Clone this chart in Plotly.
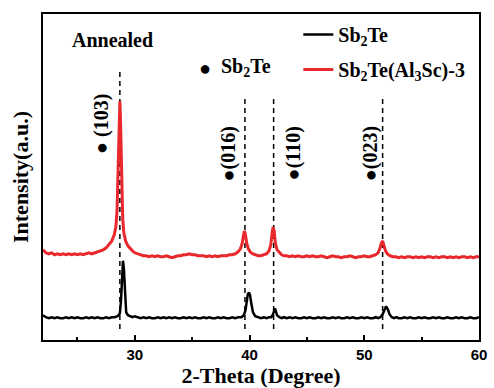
import plotly.graph_objects as go

# ---------------- data ----------------
red_x = [22.0, 22.25, 22.5, 22.75, 23.0, 23.25, 23.5, 23.75, 24.0, 24.25, 24.5, 24.75,
         25.0, 25.25, 25.5, 25.75, 26.0, 26.25, 26.5, 26.75, 27.0, 27.25, 27.5, 27.75,
         28.0, 28.2, 28.35, 28.45, 28.55, 28.65, 28.7, 28.75, 28.85, 28.95, 29.05, 29.2,
         29.4, 29.6, 29.8, 30.0, 30.25, 30.5, 30.75, 31.0, 31.25, 31.5, 31.75, 32.0,
         32.25, 32.5, 32.75, 33.0, 33.25, 33.5, 33.75, 34.0, 34.25, 34.5, 34.75, 35.0,
         35.25, 35.5, 35.75, 36.0, 36.25, 36.5, 36.75, 37.0, 37.25, 37.5, 37.75, 38.0,
         38.25, 38.5, 38.75, 39.0, 39.2, 39.35, 39.45, 39.55, 39.65, 39.75, 39.9, 40.05,
         40.25, 40.5, 40.75, 41.0, 41.25, 41.5, 41.7, 41.85, 41.95, 42.05, 42.15, 42.25,
         42.4, 42.6, 42.8, 43.0, 43.25, 43.5, 43.75, 44.0, 44.25, 44.5, 44.75, 45.0,
         45.25, 45.5, 45.75, 46.0, 46.25, 46.5, 46.75, 47.0, 47.25, 47.5, 47.75, 48.0,
         48.25, 48.5, 48.75, 49.0, 49.25, 49.5, 49.75, 50.0, 50.25, 50.5, 50.75, 51.0,
         51.2, 51.35, 51.5, 51.6, 51.7, 51.85, 52.0, 52.25, 52.5, 52.75, 53.0, 53.25,
         53.5, 53.75, 54.0, 54.25, 54.5, 54.75, 55.0, 55.25, 55.5, 55.75, 56.0, 56.25,
         56.5, 56.75, 57.0, 57.25, 57.5, 57.75, 58.0, 58.25, 58.5, 58.75, 59.0, 59.25,
         59.5, 59.75, 60.0]
red_y = [91, 88, 87, 88, 86, 87, 86, 87, 86, 87, 86, 87,
         86, 87, 86, 87, 88, 87, 88, 89, 90, 91, 93, 96,
         100, 106, 114, 130, 170, 228, 241, 224, 160, 122, 108, 100,
         95, 92, 90, 88, 87, 86, 85, 85, 84, 85, 84, 85,
         84, 84, 85, 84, 83, 84, 85, 85, 86, 86, 87, 86,
         86, 85, 85, 85, 84, 85, 84, 85, 84, 85, 85, 85,
         86, 86, 87, 89, 92, 97, 104, 110, 106, 98, 92, 89,
         87, 86, 85, 85, 86, 87, 90, 96, 106, 114, 110, 98,
         91, 88, 86, 85, 85, 84, 85, 84, 85, 84, 84, 85,
         84, 85, 84, 84, 85, 84, 83, 84, 85, 84, 84, 83,
         84, 84, 85, 84, 83, 84, 84, 85, 84, 84, 85, 86,
         88, 92, 98, 100, 96, 90, 87, 85, 84, 84, 83, 84,
         83, 84, 84, 83, 84, 83, 84, 83, 84, 84, 83, 84,
         83, 84, 84, 83, 84, 83, 84, 83, 84, 84, 83, 84,
         83, 84, 84]

black_x = [22.0, 22.25, 22.5, 22.75, 23.0, 23.25, 23.5, 23.75, 24.0, 24.25, 24.5, 24.75,
           25.0, 25.25, 25.5, 25.75, 26.0, 26.25, 26.5, 26.75, 27.0, 27.25, 27.5, 27.75,
           28.0, 28.25, 28.5, 28.7, 28.8, 28.9, 28.97, 29.05, 29.15, 29.25, 29.4, 29.6,
           29.8, 30.0, 30.25, 30.5, 30.75, 31.0, 31.25, 31.5, 31.75, 32.0, 32.25, 32.5,
           32.75, 33.0, 33.25, 33.5, 33.75, 34.0, 34.25, 34.5, 34.75, 35.0, 35.25, 35.5,
           35.75, 36.0, 36.25, 36.5, 36.75, 37.0, 37.25, 37.5, 37.75, 38.0, 38.25, 38.5,
           38.75, 39.0, 39.3, 39.5, 39.65, 39.75, 39.85, 39.95, 40.05, 40.15, 40.3, 40.5,
           40.75, 41.0, 41.25, 41.5, 41.7, 41.9, 42.05, 42.15, 42.22, 42.3, 42.4, 42.6,
           42.8, 43.0, 43.25, 43.5, 43.75, 44.0, 44.25, 44.5, 44.75, 45.0, 45.25, 45.5,
           45.75, 46.0, 46.25, 46.5, 46.75, 47.0, 47.25, 47.5, 47.75, 48.0, 48.25, 48.5,
           48.75, 49.0, 49.25, 49.5, 49.75, 50.0, 50.25, 50.5, 50.75, 51.0, 51.2, 51.4,
           51.6, 51.75, 51.9, 52.05, 52.2, 52.4, 52.6, 52.8, 53.0, 53.25, 53.5, 53.75,
           54.0, 54.25, 54.5, 54.75, 55.0, 55.25, 55.5, 55.75, 56.0, 56.25, 56.5, 56.75,
           57.0, 57.25, 57.5, 57.75, 58.0, 58.25, 58.5, 58.75, 59.0, 59.25, 59.5, 59.75,
           60.0]
black_y = [25, 23, 22, 23, 22, 23, 22, 22, 23, 22, 23, 22,
           23, 22, 22, 23, 22, 23, 22, 23, 22, 22, 23, 22,
           23, 23, 24, 27, 40, 70, 80, 72, 42, 28, 25, 24,
           23, 24, 23, 22, 23, 22, 23, 22, 22, 23, 22, 23,
           22, 23, 22, 23, 22, 22, 23, 22, 23, 22, 23, 22,
           22, 23, 22, 23, 22, 22, 23, 22, 23, 22, 22, 23,
           22, 23, 23, 25, 30, 39, 46, 48, 45, 37, 28, 24,
           23, 22, 23, 22, 23, 23, 26, 31, 32, 29, 25, 23,
           22, 23, 22, 23, 22, 23, 22, 22, 23, 22, 23, 22,
           22, 23, 22, 23, 22, 22, 23, 22, 23, 22, 22, 23,
           22, 23, 22, 22, 23, 22, 23, 22, 22, 23, 22, 23,
           26, 30, 34, 31, 26, 23, 22, 23, 22, 22, 23, 22,
           23, 22, 22, 23, 22, 23, 22, 22, 23, 22, 23, 22,
           22, 23, 22, 22, 23, 22, 23, 22, 22, 23, 22, 22,
           23]

series_names = ["Sb<sub>2</sub>Te", "Sb<sub>2</sub>Te(Al<sub>3</sub>Sc)-3"]
phase_label = "<b>Sb</b><sub><b>2</b></sub><b>Te</b>"
peak_pos = [28.7, 39.6, 42.1, 51.6]
peak_labels = ["● (103)", "●(016)", "●(110)", "●(023)"]
label_x = [27.15, 38.2, 43.85, 50.55]
label_y = [218, 188, 188, 188]
x_ticks = [30, 40, 50, 60]

# ---------------- figure ----------------
SERIF = "Liberation Serif"
SANS = "Liberation Sans"
RED = "#e8282c"


def bold_serif(s):
    return dict(family=SERIF, size=s, color="black", weight="bold")


fig = go.Figure()
fig.add_trace(go.Scatter(x=black_x, y=black_y, mode="lines",
                         name=series_names[0], legendgroup="a",
                         line=dict(color="black", width=2.5)))
fig.add_trace(go.Scatter(x=red_x, y=red_y, mode="lines",
                         name=series_names[1], legendgroup="b",
                         line=dict(color=RED, width=3)))

# dashed reference lines at the peak positions
for i, p in enumerate(peak_pos):
    top = 271 if i == 0 else 246
    fig.add_shape(type="line", x0=p, x1=p, y0=11, y1=top, xref="x", yref="y",
                  line=dict(color="black", width=1.5, dash="5px,4px"), layer="below")

# rotated peak labels
for lx, ly, t in zip(label_x, label_y, peak_labels):
    fig.add_annotation(x=lx, y=ly, xref="x", yref="y", text=t,
                       textangle=-90, showarrow=False, font=bold_serif(20))

fig.add_annotation(x=(70 - 43) / 444, y=(343 - 40) / 329, xref="paper", yref="paper",
                   xanchor="left", yanchor="middle", text="Annealed",
                   showarrow=False, font=bold_serif(20))
# phase marker legend: dot + phase name
fig.add_annotation(x=(208 - 43) / 444, y=(343 - 68) / 329, xref="paper", yref="paper",
                   xanchor="center", yanchor="middle", text="●",
                   showarrow=False, font=bold_serif(20))
fig.add_annotation(x=(222 - 43) / 444, y=(343 - 68) / 329, xref="paper", yref="paper",
                   xanchor="left", yanchor="middle", text=phase_label,
                   showarrow=False, font=bold_serif(20))

fig.update_layout(
    width=494, height=388,
    margin=dict(l=43, r=7, t=14, b=45),
    paper_bgcolor="white", plot_bgcolor="white",
    showlegend=True,
    legend=dict(x=(303 - 43) / 444, y=(343 - 15) / 329, xanchor="left", yanchor="top",
                bgcolor="rgba(0,0,0,0)", borderwidth=0,
                font=bold_serif(20),
                itemwidth=30, tracegroupgap=6),
)
fig.update_xaxes(range=[22, 60], tickvals=x_ticks, ticktext=[str(v) for v in x_ticks],
                 ticks="inside", ticklen=5, tickwidth=2, tickcolor="black",
                 minor=dict(tickvals=[25, 35, 45, 55], ticks="inside", ticklen=3,
                            tickwidth=2, tickcolor="black"),
                 showline=True, mirror=True, linewidth=2, linecolor="black",
                 showgrid=False, zeroline=False,
                 tickfont=dict(family=SANS, size=15, color="black", weight="bold"),
                 title=dict(text="2-Theta (Degree)", standoff=3,
                            font=bold_serif(22)))
fig.update_yaxes(range=[0, 329], showticklabels=False, ticks="",
                 showline=True, mirror=True, linewidth=2, linecolor="black",
                 showgrid=False, zeroline=False,
                 title=dict(text="Intensity(a.u.)", standoff=6,
                            font=bold_serif(22)))

fig.write_html("out.html")
